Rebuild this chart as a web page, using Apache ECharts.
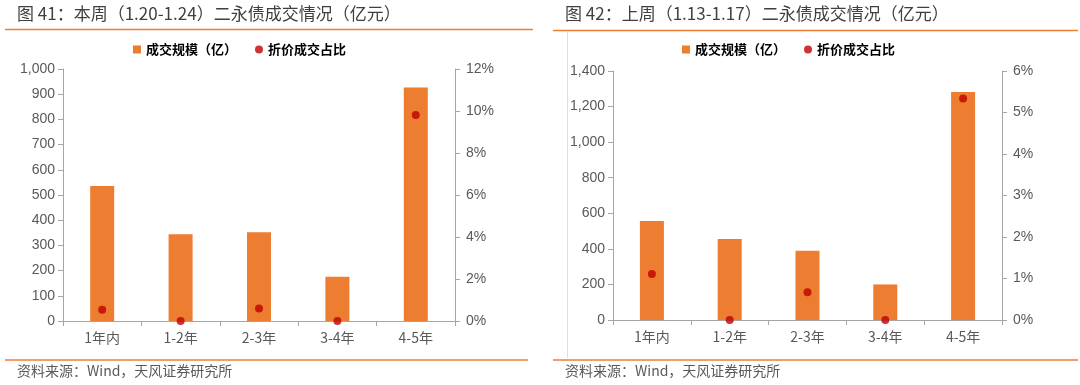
<!DOCTYPE html>
<html><head><meta charset="utf-8">
<script src="https://cdn.jsdelivr.net/npm/echarts@6/dist/echarts.min.js"></script>
<style>html,body{margin:0;padding:0;background:#fff}#c{width:1080px;height:385px}</style>
</head><body><div id="c"></div>
<script>
const categories = ['1年内', '1-2年', '2-3年', '3-4年', '4-5年'];
const volThisWeek = [536, 344, 352, 176, 927];
const pctThisWeek = [0.54, 0, 0.60, 0, 9.81];
const volLastWeek = [556, 455, 389, 200, 1282];
const pctLastWeek = [1.11, 0, 0.67, 0, 5.34];
const titleLeft = '图 41：本周（1.20-1.24）二永债成交情况（亿元）';
const titleRight = '图 42：上周（1.13-1.17）二永债成交情况（亿元）';
const sourceText = '资料来源：Wind，天风证券研究所';
const barName = '成交规模（亿）';
const dotName = '折价成交占比';

const FONT = '"Liberation Sans", Arial, "Noto Sans CJK SC", sans-serif';
const CJK = '"Noto Sans CJK SC", sans-serif';
const ORANGE = '#ED7D31';
const RED = '#C00000';
const AXIS = '#A6A6A6';
const TXT = '#595959';

function yAxis(gi, max, interval, pos, fmt, margin) {
  return {
    type: 'value', gridIndex: gi, min: 0, max: max, interval: interval, position: pos,
    axisLine: {show: true, lineStyle: {color: AXIS}},
    axisTick: {show: true, length: 5, lineStyle: {color: AXIS}},
    splitLine: {show: false},
    axisLabel: {color: TXT, fontSize: 14, fontFamily: FONT, margin: margin, formatter: fmt}
  };
}
function xAxis(gi) {
  return {
    type: 'category', gridIndex: gi, data: categories,
    axisLine: {lineStyle: {color: AXIS}},
    axisTick: {show: true, length: 5, lineStyle: {color: AXIS}},
    axisLabel: {color: TXT, fontSize: 14, fontFamily: CJK, margin: 10}
  };
}
const pctFmt = v => v + '%';
const numFmt = v => v.toLocaleString('en-US');

const option = {
  animation: false,
  grid: [
    {left: 63, top: 69, width: 392, height: 252},
    {left: 613, top: 71, width: 389, height: 249}
  ],
  xAxis: [xAxis(0), xAxis(1)],
  yAxis: [
    yAxis(0, 1000, 100, 'left', numFmt, 8),
    yAxis(0, 12, 2, 'right', pctFmt, 11),
    yAxis(1, 1400, 200, 'left', numFmt, 8),
    yAxis(1, 6, 1, 'right', pctFmt, 11)
  ],
  legend: [
    {left: 128, top: 38, itemGap: 18, itemWidth: 8, itemHeight: 8,
     textStyle: {color: '#000', fontSize: 13, fontFamily: CJK, fontWeight: 'bold'},
     data: [{name: barName, icon: 'rect'}, {name: dotName, icon: 'circle'}]},
    {left: 677, top: 38, itemGap: 18, itemWidth: 8, itemHeight: 8,
     textStyle: {color: '#000', fontSize: 13, fontFamily: CJK, fontWeight: 'bold'},
     data: [{name: barName, icon: 'rect'}, {name: dotName, icon: 'circle'}]}
  ],
  series: [
    {name: barName, type: 'bar', xAxisIndex: 0, yAxisIndex: 0, data: volThisWeek, barWidth: 24, itemStyle: {color: ORANGE}},
    {name: dotName, type: 'scatter', xAxisIndex: 0, yAxisIndex: 1, data: pctThisWeek, symbolSize: 8, itemStyle: {color: RED}, z: 5},
    {name: barName, type: 'bar', xAxisIndex: 1, yAxisIndex: 2, data: volLastWeek, barWidth: 24, itemStyle: {color: ORANGE}},
    {name: dotName, type: 'scatter', xAxisIndex: 1, yAxisIndex: 3, data: pctLastWeek, symbolSize: 8, itemStyle: {color: RED}, z: 5}
  ],
  graphic: [
    {type: 'text', left: 17, top: 5, style: {text: titleLeft, font: '17px ' + CJK, fill: '#3F3F3F'}},
    {type: 'text', left: 565, top: 5, style: {text: titleRight, font: '17px ' + CJK, fill: '#3F3F3F'}},
    {type: 'line', shape: {x1: 5, y1: 29.5, x2: 533, y2: 29.5}, style: {stroke: ORANGE, lineWidth: 1.5}},
    {type: 'line', shape: {x1: 553, y1: 30.5, x2: 1078, y2: 30.5}, style: {stroke: ORANGE, lineWidth: 1.5}},
    {type: 'line', shape: {x1: 567.5, y1: 31, x2: 567.5, y2: 358}, style: {stroke: '#E0E0E0', lineWidth: 1}},
    {type: 'line', shape: {x1: 5, y1: 360, x2: 528, y2: 360}, style: {stroke: ORANGE, lineWidth: 1.5}},
    {type: 'line', shape: {x1: 553, y1: 360, x2: 1078, y2: 360}, style: {stroke: ORANGE, lineWidth: 1.5}},
    {type: 'text', left: 17, top: 364, style: {text: sourceText, font: '14px ' + CJK, fill: TXT}},
    {type: 'text', left: 565, top: 364, style: {text: sourceText, font: '14px ' + CJK, fill: TXT}}
  ]
};
const chart = echarts.init(document.getElementById('c'), null, {renderer: 'canvas'});
chart.setOption(option);
</script></body></html>
